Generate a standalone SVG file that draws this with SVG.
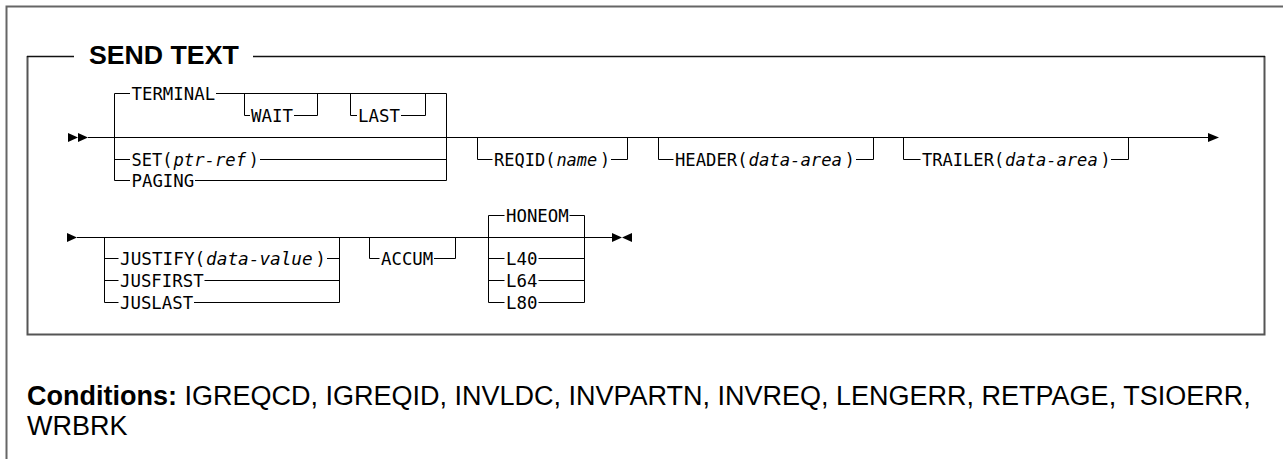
<svg xmlns="http://www.w3.org/2000/svg" width="1283" height="459" viewBox="0 0 1283 459">
<style>
.frame{fill:none;stroke:#666;stroke-width:2}
.box{fill:none;stroke:#555;stroke-width:2}
.boxtop{fill:none;stroke:#111;stroke-width:1.5}
.ln{fill:none;stroke:#000;stroke-width:1}
.mono{font-family:"DejaVu Sans Mono",monospace;font-size:18.5px;fill:#000}
.it{font-style:italic}
.title{font-family:"Liberation Sans",Arial,sans-serif;font-size:26.7px;font-weight:bold;fill:#000}
.cond{font-family:"Liberation Sans",Arial,sans-serif;font-size:27px;fill:#000}
.ah{fill:#000;stroke:none}
</style>
<rect width="1283" height="459" fill="#fff"/>
<g id="frame">
<path class="frame" d="M6.5,459 V6.5 H1283"/>
<path class="box" d="M27.5,56 V334.5 H1264.5 V56"/>
<path class="boxtop" d="M27,56.5 H74 M253,56.5 H1265"/>
<text class="title" x="89" y="63.5">SEND TEXT</text>
</g>
<g id="connectors">
<!-- section 1 main line -->
<path class="ln" d="M88,137.5 H1209"/>
<polygon class="ah" points="68,133 78,137.5 68,142"/>
<polygon class="ah" points="78,133 88,137.5 78,142"/>
<polygon class="ah" points="1208,133 1219,137.5 1208,142"/>
<!-- TERMINAL group -->
<path class="ln" d="M114.5,180.5 V93.5 H130 M216,93.5 H446.5 V180.5"/>
<path class="ln" d="M244.5,93.5 V115.5 H250 M294,115.5 H317.5 V93.5"/>
<path class="ln" d="M350.5,93.5 V115.5 H357 M401,115.5 H425.5 V93.5"/>
<path class="ln" d="M114.5,159.5 H130 M260,159.5 H446.5"/>
<path class="ln" d="M114.5,180.5 H130 M195,180.5 H446.5"/>
<!-- REQID / HEADER / TRAILER -->
<path class="ln" d="M477.5,137.5 V159.5 H492.5 M611,159.5 H627.5 V137.5"/>
<path class="ln" d="M658.5,137.5 V159.5 H673.5 M856,159.5 H873.5 V137.5"/>
<path class="ln" d="M903.5,137.5 V159.5 H920.5 M1111,159.5 H1128.5 V137.5"/>
<!-- section 2 main line -->
<path class="ln" d="M77,237.5 H612"/>
<polygon class="ah" points="67,233 77,237.5 67,242"/>
<polygon class="ah" points="612,233 622,237.5 612,242"/>
<polygon class="ah" points="632,233 622,237.5 632,242"/>
<!-- JUSTIFY group -->
<path class="ln" d="M104.5,237.5 V302.5 H118.5 M194,302.5 H339.5 V237.5"/>
<path class="ln" d="M104.5,258.5 H118.5 M327,258.5 H339.5"/>
<path class="ln" d="M104.5,280.5 H118.5 M204.5,280.5 H339.5"/>
<!-- ACCUM -->
<path class="ln" d="M369.5,237.5 V258.5 H379.5 M434,258.5 H455.5 V237.5"/>
<!-- HONEOM group -->
<path class="ln" d="M488.5,302.5 V215.5 H504.5 M569.5,215.5 H584.5 V302.5"/>
<path class="ln" d="M488.5,258.5 H504.5 M538.5,258.5 H584.5"/>
<path class="ln" d="M488.5,280.5 H504.5 M538.5,280.5 H584.5"/>
<path class="ln" d="M488.5,302.5 H504.5 M538.5,302.5 H584.5"/>
</g>
<g id="n-terminal"><text class="mono" x="131.5" y="100" textLength="83.6" lengthAdjust="spacingAndGlyphs">TERMINAL</text></g>
<g id="n-wait"><text class="mono" x="251" y="122" textLength="42" lengthAdjust="spacingAndGlyphs">WAIT</text></g>
<g id="n-last"><text class="mono" x="358" y="122" textLength="42" lengthAdjust="spacingAndGlyphs">LAST</text></g>
<g id="n-set">
<text class="mono" x="131.5" y="166" textLength="41" lengthAdjust="spacingAndGlyphs">SET(</text>
<text class="mono it" x="173.5" y="166" textLength="72.5" lengthAdjust="spacingAndGlyphs">ptr-ref</text>
<text class="mono" x="248.8" y="166" textLength="10" lengthAdjust="spacingAndGlyphs">)</text>
</g>
<g id="n-paging"><text class="mono" x="131.5" y="187" textLength="62.7" lengthAdjust="spacingAndGlyphs">PAGING</text></g>
<g id="n-reqid">
<text class="mono" x="494" y="166" textLength="61.5" lengthAdjust="spacingAndGlyphs">REQID(</text>
<text class="mono it" x="556.4" y="166" textLength="40.8" lengthAdjust="spacingAndGlyphs">name</text>
<text class="mono" x="600" y="166" textLength="10" lengthAdjust="spacingAndGlyphs">)</text>
</g>
<g id="n-header">
<text class="mono" x="675" y="166" textLength="72.6" lengthAdjust="spacingAndGlyphs">HEADER(</text>
<text class="mono it" x="748.5" y="166" textLength="93.5" lengthAdjust="spacingAndGlyphs">data-area</text>
<text class="mono" x="844.8" y="166" textLength="10" lengthAdjust="spacingAndGlyphs">)</text>
</g>
<g id="n-trailer">
<text class="mono" x="922" y="166" textLength="82.2" lengthAdjust="spacingAndGlyphs">TRAILER(</text>
<text class="mono it" x="1005.1" y="166" textLength="92.6" lengthAdjust="spacingAndGlyphs">data-area</text>
<text class="mono" x="1100.5" y="166" textLength="10" lengthAdjust="spacingAndGlyphs">)</text>
</g>
<g id="n-justify">
<text class="mono" x="120" y="265" textLength="85.2" lengthAdjust="spacingAndGlyphs">JUSTIFY(</text>
<text class="mono it" x="206.1" y="265" textLength="106.6" lengthAdjust="spacingAndGlyphs">data-value</text>
<text class="mono" x="315.6" y="265" textLength="10.2" lengthAdjust="spacingAndGlyphs">)</text>
</g>
<g id="n-jusfirst"><text class="mono" x="120" y="287" textLength="83.6" lengthAdjust="spacingAndGlyphs">JUSFIRST</text></g>
<g id="n-juslast"><text class="mono" x="120" y="309" textLength="73.2" lengthAdjust="spacingAndGlyphs">JUSLAST</text></g>
<g id="n-accum"><text class="mono" x="381" y="265" textLength="52.3" lengthAdjust="spacingAndGlyphs">ACCUM</text></g>
<g id="n-honeom"><text class="mono" x="506" y="222" textLength="62.7" lengthAdjust="spacingAndGlyphs">HONEOM</text></g>
<g id="n-l40"><text class="mono" x="506" y="265" textLength="31.4" lengthAdjust="spacingAndGlyphs">L40</text></g>
<g id="n-l64"><text class="mono" x="506" y="287" textLength="31.4" lengthAdjust="spacingAndGlyphs">L64</text></g>
<g id="n-l80"><text class="mono" x="506" y="309" textLength="31.4" lengthAdjust="spacingAndGlyphs">L80</text></g>
<g id="conditions">
<text class="cond" x="27" y="405"><tspan font-weight="bold">Conditions:</tspan> IGREQCD, IGREQID, INVLDC, INVPARTN, INVREQ, LENGERR, RETPAGE, TSIOERR,</text>
<text class="cond" x="27" y="435">WRBRK</text>
</g>
</svg>
